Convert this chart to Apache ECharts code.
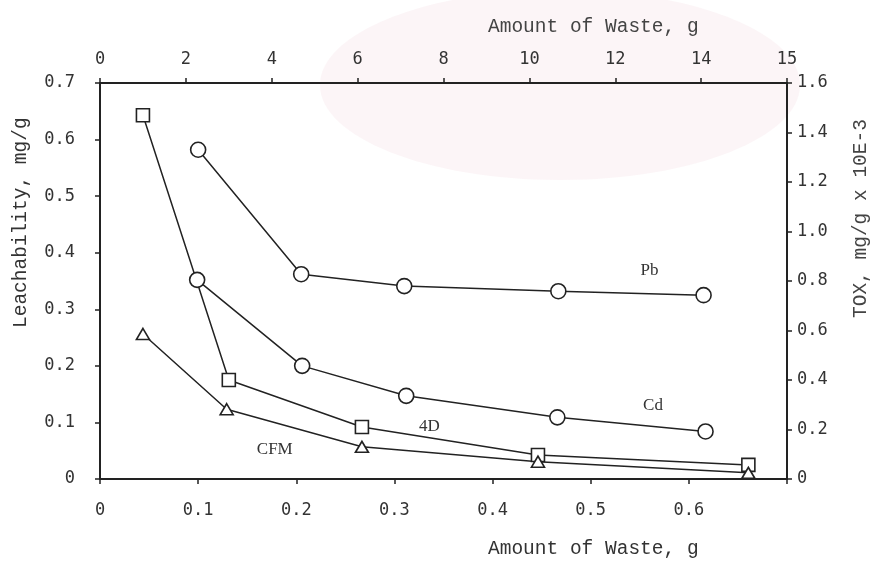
<!DOCTYPE html>
<html>
<head>
<meta charset="utf-8">
<script src="https://cdn.jsdelivr.net/npm/echarts@6/dist/echarts.min.js"></script>
<style>
html,body{margin:0;padding:0;background:#fff;}
#chart{width:870px;height:566px;}
</style>
</head>
<body>
<div id="chart"></div>
<script>
// ---- data ----
// Bottom axis (Amount of Waste, g) vs left axis (Leachability, mg/g)
const pbX = [0.100, 0.205, 0.310, 0.467, 0.615];
const pbY = [0.582, 0.362, 0.341, 0.332, 0.325];
const cdX = [0.099, 0.206, 0.312, 0.466, 0.617];
const cdY = [0.352, 0.200, 0.147, 0.109, 0.084];
// Top axis (Amount of Waste, g) vs right axis (TOX, mg/g x 10E-3)
const d4X = [1.0, 3.0, 6.1, 10.2, 15.1];
const d4Y = [1.47, 0.40, 0.21, 0.097, 0.057];
const cfmX = [1.0, 2.95, 6.1, 10.2, 15.1];
const cfmY = [0.586, 0.282, 0.130, 0.070, 0.025];

// tick labels
const bottomTickLabels = ['0', '0.1', '0.2', '0.3', '0.4', '0.5', '0.6', ''];
const topTickLabels = ['0', '2', '4', '6', '8', '10', '12', '14', '15'];
const leftTickLabels = ['0', '0.1', '0.2', '0.3', '0.4', '0.5', '0.6', '0.7'];
const rightTickLabels = ['0', '0.2', '0.4', '0.6', '0.8', '1.0', '1.2', '1.4', '1.6'];

// series label positions (data coordinates)
const pbLabel = [0.560, 0.368];
const cdLabel = [0.5635, 0.129];
const d4Label = [7.67, 0.21];
const cfmLabel = [4.07, 0.121];

const ink = '#222';
const tickFont = {fontFamily: 'DejaVu Sans Mono', fontSize: 17, color: '#333'};
const titleFont = 'Liberation Mono';

function zip(a, b) { return a.map((v, i) => [v, b[i]]); }

function axisCommon(labels, margin) {
  return {
    axisLine: {show: true, onZero: false, lineStyle: {color: ink, width: 2}},
    axisTick: {show: true, length: 5, lineStyle: {color: ink, width: 1.5}},
    splitLine: {show: false},
    axisLabel: Object.assign({
      margin: margin,
      formatter: function (v, i) { return labels[i] !== undefined ? labels[i] : ''; }
    }, tickFont)
  };
}

function markLabel(coord, text) {
  return {
    symbol: 'circle', symbolSize: 0, silent: true,
    data: [{coord: coord, label: {show: true, position: 'inside', formatter: text,
      fontFamily: 'Liberation Serif', fontSize: 17, color: '#333'}}]
  };
}

const lineStyle = {color: ink, width: 1.5};
const itemStyle = {color: '#fff', borderColor: ink, borderWidth: 1.6};

const chart = echarts.init(document.getElementById('chart'), null, {renderer: 'canvas'});
chart.setOption({
  animation: false,
  backgroundColor: '#fff',
  grid: {left: 100, right: 83, top: 83, bottom: 87, containLabel: false},
  graphic: [
    {type: 'ellipse', silent: true, z: -10,
      shape: {cx: 560, cy: 85, rx: 240, ry: 95},
      style: {fill: 'rgba(245,215,222,0.25)'}},
    {type: 'text', left: 488, top: 17, silent: true,
      style: {text: 'Amount of Waste, g', fontFamily: titleFont, fontSize: 19.5, fill: '#444'}},
    {type: 'text', left: 488, top: 539, silent: true,
      style: {text: 'Amount of Waste, g', fontFamily: titleFont, fontSize: 19.5, fill: '#333'}},
    {type: 'text', x: 11, y: 328, rotation: Math.PI / 2, silent: true,
      style: {text: 'Leachability, mg/g', fontFamily: titleFont, fontSize: 19.5, fill: '#333'}},
    {type: 'text', x: 851, y: 318, rotation: Math.PI / 2, silent: true,
      style: {text: 'TOX, mg/g x 10E-3', fontFamily: titleFont, fontSize: 19.5, fill: '#444'}}
  ],
  xAxis: [
    Object.assign({type: 'value', position: 'bottom', min: 0, max: 0.7, interval: 0.1},
      axisCommon(bottomTickLabels, 23)),
    Object.assign({type: 'value', position: 'top', min: 0, max: 16, interval: 2},
      axisCommon(topTickLabels, 15))
  ],
  yAxis: [
    Object.assign({type: 'value', position: 'left', min: 0, max: 0.7, interval: 0.1},
      axisCommon(leftTickLabels, 25)),
    Object.assign({type: 'value', position: 'right', min: 0, max: 1.6, interval: 0.2},
      axisCommon(rightTickLabels, 10))
  ],
  series: [
    {name: 'Pb', type: 'line', xAxisIndex: 0, yAxisIndex: 0, data: zip(pbX, pbY),
      symbol: 'circle', symbolSize: 15, showAllSymbol: true, lineStyle: lineStyle, itemStyle: itemStyle,
      markPoint: markLabel(pbLabel, 'Pb')},
    {name: 'Cd', type: 'line', xAxisIndex: 0, yAxisIndex: 0, data: zip(cdX, cdY),
      symbol: 'circle', symbolSize: 15, showAllSymbol: true, lineStyle: lineStyle, itemStyle: itemStyle,
      markPoint: markLabel(cdLabel, 'Cd')},
    {name: '4D', type: 'line', xAxisIndex: 1, yAxisIndex: 1, data: zip(d4X, d4Y),
      symbol: 'rect', symbolSize: 13, showAllSymbol: true, lineStyle: lineStyle, itemStyle: itemStyle,
      markPoint: markLabel(d4Label, '4D')},
    {name: 'CFM', type: 'line', xAxisIndex: 1, yAxisIndex: 1, data: zip(cfmX, cfmY),
      symbol: 'triangle', symbolSize: [13, 11], showAllSymbol: true, lineStyle: lineStyle, itemStyle: itemStyle,
      markPoint: markLabel(cfmLabel, 'CFM')}
  ]
});
</script>
</body>
</html>
